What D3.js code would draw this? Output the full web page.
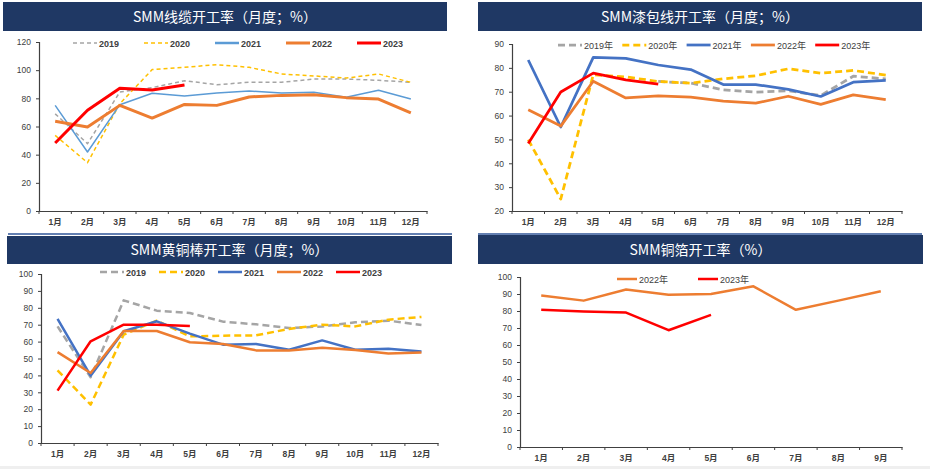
<!DOCTYPE html>
<html><head><meta charset="utf-8">
<script src="https://cdn.jsdelivr.net/npm/d3@7"></script>
<style>
html,body{margin:0;padding:0;background:#fff;}
svg{display:block;}
</style></head>
<body>
<svg id="c" width="930" height="469"></svg>
<script>
// ---------- DATA ----------
const months12 = ["1月","2月","3月","4月","5月","6月","7月","8月","9月","10月","11月","12月"];
const months9 = ["1月","2月","3月","4月","5月","6月","7月","8月","9月"];

// Panel 1: SMM线缆开工率
const cable2019 = [69.0,47.8,84.5,87.6,92.5,89.7,91.4,91.4,93.7,93.7,92.8,91.4];
const cable2020 = [53.7,34.3,76.2,100.4,102.0,103.9,102.0,97.3,95.9,94.4,97.3,91.4];
const cable2021 = [75.0,41.9,75.5,83.6,81.7,83.8,85.2,83.8,84.3,80.7,85.7,79.5];
const cable2022 = [63.7,59.6,75.0,66.0,75.7,75.0,81.0,82.1,82.6,80.5,79.5,69.6];
const cable2023 = [48.3,71.5,87.1,85.9,89.5];

// Panel 2: SMM漆包线开工率
const enam2019 = [null,null,null,null,74.3,73.6,70.8,69.8,70.4,68.4,76.5,75.4];
const enam2020 = [49.9,25.0,77.1,76.2,74.3,73.6,75.4,76.7,79.6,77.8,78.9,77.0];
const enam2021 = [83.3,55.2,84.4,84.0,81.2,79.3,73.0,73.0,71.0,68.0,74.0,74.8];
const enam2022 = [62.4,55.6,74.4,67.4,68.3,67.7,66.1,65.2,68.1,64.7,68.7,66.7];
const enam2023 = [48.3,69.9,77.8,75.0,73.2];

// Panel 3: SMM黄铜棒开工率
const brass2019 = [69.0,38.9,84.4,78.3,76.9,71.8,70.2,68.0,69.0,71.4,72.4,69.8];
const brass2020 = [43.0,22.7,64.1,72.4,63.1,63.5,63.7,67.5,70.0,69.0,73.0,74.6];
const brass2021 = [73.4,39.8,66.1,72.0,64.7,58.2,58.6,55.2,60.7,55.2,55.8,54.2];
const brass2022 = [53.8,41.4,66.3,66.3,59.6,58.6,54.8,54.8,56.4,55.0,53.0,53.5];
const brass2023 = [31.0,60.2,70.0,70.0,69.2];

// Panel 4: SMM铜箔开工率
const foil2022 = [89.1,86.1,92.6,89.6,90.0,94.5,80.7,86.1,91.6];
const foil2023 = [80.7,79.7,79.1,68.7,77.7];

const legendYears = ["2019","2020","2021","2022","2023"];
const legendYearsNian = ["2019年","2020年","2021年","2022年","2023年"];

// ---------- STYLES / LAYOUT ----------
const C = {gray:"#A5A5A5", yellow:"#FFC000", blue:"#4472C4", lblue:"#5B9BD5", orange:"#ED7D31", red:"#FF0000"};
const panels = [
  { title:"SMM线缆开工率（月度；%）", tb:[3,2,444,29], x0:39, x1:427, yTop:42, yBot:211,
    dom:[0,120], step:20, cats:months12, bottomLine:[8,452,234],
    leg:{y:43,x0:73,step:71,len:24,bold:true}, labels:legendYears,
    series:[
      {d:cable2019,c:C.gray,w:1.5,dash:"4,3"},
      {d:cable2020,c:C.yellow,w:1.5,dash:"4,3"},
      {d:cable2021,c:C.lblue,w:1.5},
      {d:cable2022,c:C.orange,w:3},
      {d:cable2023,c:C.red,w:3}]},
  { title:"SMM漆包线开工率（月度；%）", tb:[478,2,444,29], x0:512, x1:902, yTop:44, yBot:211,
    dom:[20,90], step:10, cats:months12, bottomLine:[478,922,234],
    leg:{y:45,x0:558,step:64.3,len:24,bold:false}, labels:legendYearsNian,
    series:[
      {d:enam2019,c:C.gray,w:2.75,dash:"7,4"},
      {d:enam2020,c:C.yellow,w:2.75,dash:"7,4"},
      {d:enam2021,c:C.blue,w:2.75},
      {d:enam2022,c:C.orange,w:2.75},
      {d:enam2023,c:C.red,w:2.75}]},
  { title:"SMM黄铜棒开工率（月度；%）", tb:[7,236,445,28], x0:41, x1:438, yTop:274, yBot:443,
    dom:[0,100], step:10, cats:months12, bottomLine:null,
    leg:{y:272,x0:100,step:59,len:24,bold:true}, labels:legendYears,
    series:[
      {d:brass2019,c:C.gray,w:2.5,dash:"7,4"},
      {d:brass2020,c:C.yellow,w:2.5,dash:"7,4"},
      {d:brass2021,c:C.blue,w:2.5},
      {d:brass2022,c:C.orange,w:2.5},
      {d:brass2023,c:C.red,w:2.5}]},
  { title:"SMM铜箔开工率（%）", tb:[478,235,445,29], x0:520, x1:902, yTop:277, yBot:447,
    dom:[0,100], step:10, cats:months9, bottomLine:null,
    leg:{y:279,x0:617,step:81,len:20,bold:false}, labels:["2022年","2023年"],
    series:[
      {d:foil2022,c:C.orange,w:2.5},
      {d:foil2023,c:C.red,w:2.5}]}
];

const svg = d3.select("#c");
svg.append("rect").attr("x",0).attr("y",0).attr("width",930).attr("height",469).attr("fill","#fff");
svg.append("rect").attr("x",0).attr("y",466).attr("width",930).attr("height",3).attr("fill","#EFEFEF");

const FONT = "'Liberation Sans', Arial, 'Noto Sans CJK SC', sans-serif";

panels.forEach(p => {
  const g = svg.append("g");
  // title bar
  g.append("rect").attr("x",p.tb[0]).attr("y",p.tb[1]).attr("width",p.tb[2]).attr("height",p.tb[3])
    .attr("fill","#1F3864");
  g.append("text").attr("x",p.tb[0]+p.tb[2]/2).attr("y",p.tb[1]+p.tb[3]/2+5)
    .attr("text-anchor","middle").attr("fill","#fff")
    .attr("font-family","'Noto Sans CJK SC', sans-serif").attr("font-size",14)
    .text(p.title);
  if (p.bottomLine) {
    g.append("line").attr("x1",p.bottomLine[0]).attr("x2",p.bottomLine[1])
      .attr("y1",p.bottomLine[2]).attr("y2",p.bottomLine[2])
      .attr("stroke","#2F5597").attr("stroke-width",1.5);
  }
  const x = d3.scaleBand().domain(p.cats).range([p.x0,p.x1]).padding(0);
  const y = d3.scaleLinear().domain(p.dom).range([p.yBot,p.yTop]);
  const ticks = d3.range(p.dom[0], p.dom[1]+0.001, p.step);

  // y axis
  const ya = g.append("g").attr("transform",`translate(${p.x0},0)`)
    .call(d3.axisLeft(y).tickValues(ticks).tickSize(3).tickPadding(5));
  ya.select(".domain").attr("stroke","#404040").attr("stroke-width",1.2);
  ya.selectAll(".tick line").attr("stroke","#404040");
  ya.selectAll("text").attr("font-family",FONT).attr("font-size",8.5).attr("fill","#404040");

  // x axis
  const xa = g.append("g").attr("transform",`translate(0,${p.yBot})`)
    .call(d3.axisBottom(x).tickSize(0).tickPadding(8));
  xa.select(".domain").attr("stroke","#404040").attr("stroke-width",1.2);
  xa.selectAll("text").attr("font-family",FONT).attr("font-size",8.5).attr("font-weight","bold").attr("fill","#404040");
  // boundary tick marks
  const bounds = p.cats.map(c => x(c)).concat([p.x1]);
  g.selectAll(null).data(bounds).enter().append("line")
    .attr("x1",d=>d).attr("x2",d=>d).attr("y1",p.yBot).attr("y2",p.yBot+3)
    .attr("stroke","#404040").attr("stroke-width",1);

  // lines
  const line = d3.line().defined(d => d.v != null)
    .x(d => x(d.c) + x.bandwidth()/2).y(d => y(d.v));
  p.series.forEach(s => {
    const pts = s.d.map((v,i) => ({c:p.cats[i], v:v}));
    g.append("path").attr("d", line(pts)).attr("fill","none")
      .attr("stroke", s.c).attr("stroke-width", s.w)
      .attr("stroke-dasharray", s.dash || null)
      .attr("stroke-linejoin","round");
  });

  // legend
  p.labels.forEach((lab,i) => {
    const s = p.series[p.series.length - p.labels.length + i];
    const lx = p.leg.x0 + i*p.leg.step;
    g.append("line").attr("x1",lx).attr("x2",lx+p.leg.len).attr("y1",p.leg.y).attr("y2",p.leg.y)
      .attr("stroke",s.c).attr("stroke-width",s.w < 2 && i<2 ? 1.5 : Math.max(s.w,2.5))
      .attr("stroke-dasharray", s.dash || null);
    g.append("text").attr("x",lx+p.leg.len+2).attr("y",p.leg.y+3.5)
      .attr("font-family",FONT).attr("font-size",9)
      .attr("font-weight",p.leg.bold?"bold":"normal").attr("fill","#404040").text(lab);
  });
});
</script>
</body></html>
